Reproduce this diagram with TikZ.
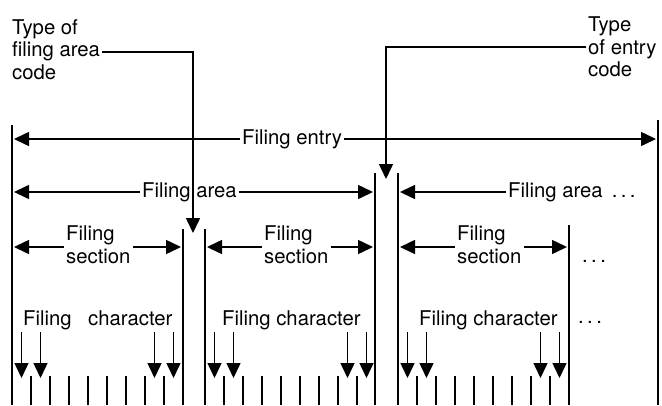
\documentclass[tikz,border=0pt]{standalone}
\usepackage{fontspec}
\setmainfont{TeX Gyre Heros}[Ligatures=CommonOff]
\usetikzlibrary{arrows.meta}
\begin{document}
\begin{tikzpicture}[x=1pt,y=-1pt,
  lbl/.style={inner xsep=2pt, inner ysep=0pt, font=\fontsize{20.3}{22.5}\selectfont},
  mlbl/.style={lbl, align=left, anchor=north west},
  blbl/.style={lbl, anchor=base west},
  bar/.style={line width=2pt},
  tickline/.style={line width=1.6pt},
  conn/.style={line width=1.5pt},
  arr/.style={conn, -{Triangle[length=15pt,width=14pt]}},
]
\useasboundingbox (0,0) rectangle (662,405);

% vertical bars
\coordinate (L0t) at (12,125);  \coordinate (L0b) at (12,405);
\coordinate (R0t) at (658,120); \coordinate (R0b) at (658,405);
\coordinate (A1t) at (375,173); \coordinate (A1b) at (375,405);
\coordinate (A2t) at (398,173); \coordinate (A2b) at (398,405);
\coordinate (S1t) at (183,229); \coordinate (S1b) at (183,405);
\coordinate (S2t) at (205,229); \coordinate (S2b) at (205,405);
\coordinate (S3t) at (569,225); \coordinate (S3b) at (569,405);
\foreach \n in {L0,R0,A1,A2,S1,S2,S3} \draw[bar] (\n t) -- (\n b);

% ticks and character arrows
\foreach \s in {12,205,398} {
  \foreach \k in {1,...,8} \draw[tickline] (\s+19*\k,376) -- (\s+19*\k,405);
  \foreach \o in {9.5,28.5,142.5,161.5} \draw[arr] (\s+\o,332) -- (\s+\o,378);
}

% Filing entry
\node[blbl] (fe) at (240,144) {Filing entry};
\coordinate (feL) at (14,139); \coordinate (feR) at (656,139);
\draw[arr] (fe.west |- feL) -- (feL);
\draw[arr] (fe.east |- feR) -- (feR);

% Filing area
\node[blbl] (fa1) at (140,197) {Filing area};
\coordinate (fa1L) at (14,192); \coordinate (fa1R) at (373,192);
\draw[arr] (fa1.west |- fa1L) -- (fa1L);
\draw[arr] (fa1.east |- fa1R) -- (fa1R);
\node[blbl] (fa2) at (506,197) {Filing area \,.\,.\,.};
\coordinate (fa2L) at (400,192);
\draw[arr] (fa2.west |- fa2L) -- (fa2L);

% Filing section
\node[mlbl] (fs1) at (64,225.6) {Filing\\section};
\coordinate (fs1L) at (14,247); \coordinate (fs1R) at (181,247);
\draw[arr] (fs1.west |- fs1L) -- (fs1L);
\draw[arr] (fs1.east |- fs1R) -- (fs1R);
\node[mlbl] (fs2) at (262,225.6) {Filing\\section};
\coordinate (fs2L) at (207,247); \coordinate (fs2R) at (373,247);
\draw[arr] (fs2.west |- fs2L) -- (fs2L);
\draw[arr] (fs2.east |- fs2R) -- (fs2R);
\node[mlbl] (fs3) at (455,225.6) {Filing\\section};
\coordinate (fs3L) at (400,247); \coordinate (fs3R) at (567,247);
\draw[arr] (fs3.west |- fs3L) -- (fs3L);
\draw[arr] (fs3.east |- fs3R) -- (fs3R);
\node[blbl] (dots1) at (580,262) {.\,.\,.};

% Filing character
\node[blbl] (fc1a) at (21,325) {Filing};
\node[blbl] (fc1b) at (86,325) {character};
\node[blbl] (fc2) at (220,325) {Filing character};
\node[blbl] (fc3) at (417,325) {Filing character};
\node[blbl] (dots2) at (576,323) {.\,.\,.};

% Type of filing area code
\node[mlbl] (tfa) at (10,19.4) {Type of\\filing area\\code};
\coordinate (c1) at (193,52); \coordinate (t1) at (193,233);
\draw[arr] (tfa.east |- c1) -- (c1) -- (t1);

% Type of entry code
\node[mlbl] (tec) at (586,16.6) {Type\\of entry\\code};
\coordinate (c2) at (386,47); \coordinate (t2) at (386,179);
\draw[arr] (tec.west |- c2) -- (c2) -- (t2);
\end{tikzpicture}
\end{document}
